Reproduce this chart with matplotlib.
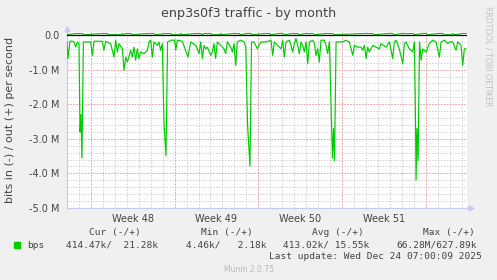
import numpy as np
import matplotlib
matplotlib.use("Agg")
import matplotlib.pyplot as plt
from matplotlib.patches import Rectangle
from matplotlib.ticker import FuncFormatter

# traffic in (drawn negative), Mbit/s, x = days since start of graph
in_days = [0.00, 0.08, 0.25, 0.45, 0.59, 0.73, 0.86, 1.00, 1.09, 1.17, 1.25, 1.37, 1.70, 1.98,
           2.12, 2.26, 2.54, 2.95, 3.09, 3.23, 3.65, 3.93, 4.07, 4.21, 4.35, 4.63, 4.77, 4.91,
           5.05, 5.33, 5.46, 5.60, 5.74, 5.88, 6.02, 6.16, 6.44, 6.72, 6.86, 7.00, 7.14, 7.28,
           7.55, 7.69, 7.83, 7.97, 8.11, 8.28, 8.41, 8.70, 9.00, 9.09, 9.23, 9.64, 10.12, 10.34,
           10.76, 10.90, 11.04, 11.18, 11.32, 11.46, 11.60, 11.74, 12.02, 12.15, 12.29, 12.43,
           12.57, 12.85, 13.13, 13.27, 13.41, 13.69, 13.83, 13.97, 14.11, 14.24, 14.53, 14.80,
           14.95, 15.10, 15.30, 15.43, 15.64, 15.92, 16.20, 16.48, 16.64, 17.06, 17.20, 17.34,
           17.62, 17.90, 18.04, 18.17, 18.32, 18.59, 18.73, 18.87, 19.01, 19.15, 19.29, 19.43,
           19.57, 19.71, 19.85, 19.99, 20.13, 20.27, 20.55, 20.69, 20.82, 20.97, 21.10, 21.24,
           21.52, 21.66, 21.80, 21.94, 22.12, 22.20, 22.29, 22.37, 22.50, 23.06, 23.33, 23.61,
           23.90, 24.03, 24.31, 24.59, 24.73, 24.87, 25.01, 25.15, 25.28, 25.57, 25.84, 26.12,
           26.26, 26.68, 26.96, 27.24, 27.37, 27.52, 27.79, 28.08, 28.21, 28.35, 28.63, 28.91,
           29.05, 29.15, 29.19, 29.27, 29.36, 29.48, 29.61, 29.75, 30.02, 30.30, 30.58, 30.86,
           31.14, 31.28, 31.56, 31.84, 31.97, 32.26, 32.53, 32.68, 32.95, 33.09, 33.23, 33.37]
in_mbps = [0.20, 0.68, 0.18, 0.18, 0.20, 0.35, 0.20, 0.25, 2.80, 2.30, 3.55, 0.20, 0.20, 0.20,
           0.59, 0.18, 0.18, 0.18, 0.44, 0.18, 0.25, 0.64, 0.15, 0.49, 0.25, 0.40, 1.02, 0.64,
           0.78, 0.44, 0.64, 0.35, 0.73, 0.40, 0.68, 0.49, 0.54, 0.44, 0.20, 0.15, 0.64, 0.20,
           0.30, 0.20, 0.44, 0.25, 2.55, 3.49, 0.20, 0.15, 0.15, 0.44, 0.15, 0.18, 0.64, 0.20,
           0.30, 0.40, 0.54, 0.20, 0.68, 0.30, 0.40, 0.35, 0.59, 0.49, 0.25, 0.68,
           0.20, 0.30, 0.40, 0.54, 0.20, 0.35, 0.49, 0.25, 0.88, 0.20, 0.15, 0.20,
           0.35, 2.60, 3.79, 0.20, 0.20, 0.40, 0.20, 0.20, 0.20, 0.15, 0.59, 0.20,
           0.30, 0.40, 0.15, 0.64, 0.20, 0.15, 0.30, 0.49, 0.25, 0.10, 0.30, 0.54,
           0.20, 0.30, 0.49, 0.20, 0.83, 0.20, 0.15, 0.25, 0.59, 0.40, 0.78, 0.15,
           0.15, 0.30, 0.54, 0.20, 2.60, 3.55, 2.70, 3.63, 0.20, 0.20, 0.15, 0.20,
           0.59, 0.30, 0.35, 0.35, 0.44, 0.30, 0.68, 0.35, 0.49, 0.30, 0.35, 0.40,
           0.25, 0.35, 0.20, 0.68, 0.20, 0.15, 0.40, 0.83, 0.25, 0.20, 0.40, 0.49,
           0.20, 2.60, 4.19, 2.70, 3.63, 0.20, 0.73, 0.40, 0.49, 0.25, 0.15, 0.20,
           0.64, 0.20, 0.15, 0.25, 0.20, 0.20, 0.44, 0.20, 0.30, 0.88, 0.40, 0.40]

# traffic out (drawn positive), Mbit/s
out_days = [0.00, 0.86, 1.00, 1.28, 1.40, 3.09, 3.20, 3.37, 3.50, 4.50, 4.63, 4.75, 4.91, 5.10,
            5.33, 5.45, 6.86, 7.00, 7.28, 7.40, 8.25, 8.45, 8.67, 8.80, 9.40, 9.51, 9.62, 10.76,
            11.00, 11.18, 11.30, 11.46, 11.70, 12.02, 12.15, 12.75, 12.85, 12.95, 13.97, 14.20,
            14.38, 14.50, 15.08, 15.36, 15.50, 16.64, 16.92, 17.05, 17.76, 18.04, 18.15, 18.87,
            19.10, 19.29, 19.40, 19.99, 20.30, 20.55, 20.70, 21.66, 21.90, 22.22, 22.35, 25.01,
            25.30, 25.57, 25.70, 26.96, 27.24, 27.35, 28.08, 28.50, 28.91, 29.05, 29.75, 30.02,
            30.15, 31.14, 31.42, 31.55, 32.15, 32.26, 32.37, 33.09, 33.37]
out_mbps = [0.01, 0.045, 0.04, 0.045, 0.01, 0.045, 0.04, 0.045, 0.01, 0.01, 0.045, 0.01, 0.045, 0.04,
            0.045, 0.01, 0.045, 0.04, 0.045, 0.01, 0.045, 0.04, 0.045, 0.01, 0.01, 0.045, 0.01, 0.045,
            0.04, 0.045, 0.01, 0.045, 0.04, 0.045, 0.01, 0.01, 0.045, 0.01, 0.045, 0.04,
            0.045, 0.01, 0.045, 0.045, 0.01, 0.045, 0.045, 0.01, 0.045, 0.045, 0.01, 0.045,
            0.04, 0.045, 0.01, 0.045, 0.04, 0.045, 0.01, 0.045, 0.04, 0.045, 0.01, 0.045,
            0.04, 0.045, 0.01, 0.045, 0.045, 0.01, 0.045, 0.04, 0.045, 0.01, 0.045, 0.045,
            0.01, 0.045, 0.045, 0.01, 0.01, 0.045, 0.01, 0.045, 0.045]

week_labels = ["Week 48", "Week 49", "Week 50", "Week 51"]
first_monday = 2.0
span_days = 33.45

legend_heads = ["Cur (-/+)", "Min (-/+)", "Avg (-/+)", "Max (-/+)"]
legend_vals = ["414.47k/  21.28k", "4.46k/   2.18k", "413.02k/ 15.55k", "66.28M/627.89k"]
last_update = "Last update: Wed Dec 24 07:00:09 2025"

W, H = 497, 280
green = "#00cc00"
txt = "#444444"
axis_col = "#c8c8f4"

fig = plt.figure(figsize=(W / 100, H / 100), dpi=100, facecolor="#f0f0f0")
ax = fig.add_axes([67 / W, 1 - 208 / H, 400 / W, (208 - 31.9) / H])
ax.set_facecolor("white")
ax.set_xlim(0, span_days)
ax.set_ylim(-5.0e6, 0.09e6)

# grid: minor every day / 0.2M, major at week starts / 1M
for d in np.arange(0, span_days, 1.0):
    ax.axvline(d, color="#d0d0d0", lw=0.7, ls=(0, (1.5, 1.5)), zorder=0)
for v in np.arange(-5.0, 0.01, 0.2):
    ax.axhline(v * 1e6, color="#d0d0d0", lw=0.7, ls=(0, (1.5, 1.5)), zorder=0)
for d in np.arange(first_monday, span_days, 7):
    ax.axvline(d, color="#f0a0a0", lw=0.7, ls=(0, (1.5, 1.5)), zorder=1)
for v in range(-5, 1):
    ax.axhline(v * 1e6, color="#f0a0a0", lw=0.7, ls=(0, (1.5, 1.5)), zorder=1)

ax.plot(out_days, np.array(out_mbps) * 1e6, color=green, lw=0.85, zorder=3)
ax.plot(in_days, -np.array(in_mbps) * 1e6, color=green, lw=0.85, zorder=3)
ax.axhline(0, color="black", lw=0.9, zorder=4)

for s in ["top", "right"]:
    ax.spines[s].set_visible(False)
for s in ["left", "bottom"]:
    ax.spines[s].set_color(axis_col)
    ax.spines[s].set_linewidth(0.8)
ax.plot([0], [1.014], marker="^", ms=3.5, color=axis_col, transform=ax.transAxes, clip_on=False)
ax.plot([1.009], [0], marker=">", ms=3.5, color=axis_col, transform=ax.transAxes, clip_on=False)

ax.set_xticks([first_monday + 3.5 + 7 * i for i in range(len(week_labels))])
ax.set_xticklabels(week_labels)
ax.set_yticks([v * 1e6 for v in range(-5, 1)])
ax.yaxis.set_major_formatter(FuncFormatter(lambda v, p: "0.0" if v == 0 else "%.1f M" % (v / 1e6)))
ax.tick_params(axis="both", length=0, labelsize=7, labelcolor=txt)
ax.tick_params(axis="y", pad=5.5)
ax.tick_params(axis="x", pad=4)

fig.text(248.5 / W, 1 - 13 / H, "enp3s0f3 traffic - by month", ha="center", va="center",
         fontsize=9.2, color=txt)
fig.text(10 / W, 1 - 119.7 / H, "bits in (-) / out (+) per second", rotation=90,
         ha="center", va="center", fontsize=8, color=txt)
fig.text(488 / W, 1 - 56 / H, "RRDTOOL / TOBI OETIKER", rotation=270, ha="center",
         va="center", fontsize=5.7, color="#c0c0c0")

mono = dict(family="DejaVu Sans Mono", fontsize=6.8, color=txt, va="center")
for x, s in zip([89.3, 201, 312.3, 422.7], legend_heads):
    fig.text(x / W, 1 - 232.3 / H, s, **mono)
fig.patches.append(Rectangle((14 / W, 1 - 248 / H), 6 / W, 6 / H, transform=fig.transFigure,
                             color=green))
fig.text(26.7 / W, 1 - 245 / H, "bps", **mono)
for x, s in zip([66, 185.7, 283.3, 396.7], legend_vals):
    fig.text(x / W, 1 - 245 / H, s, **mono)
fig.text(482 / W, 1 - 256.7 / H, last_update, ha="right", **mono)
fig.text(248.5 / W, 1 - 269 / H, "Munin 2.0.75", ha="center", va="center", fontsize=5.5,
         color="#b8b8b8")

fig.savefig("out.png", dpi=100, facecolor=fig.get_facecolor())
